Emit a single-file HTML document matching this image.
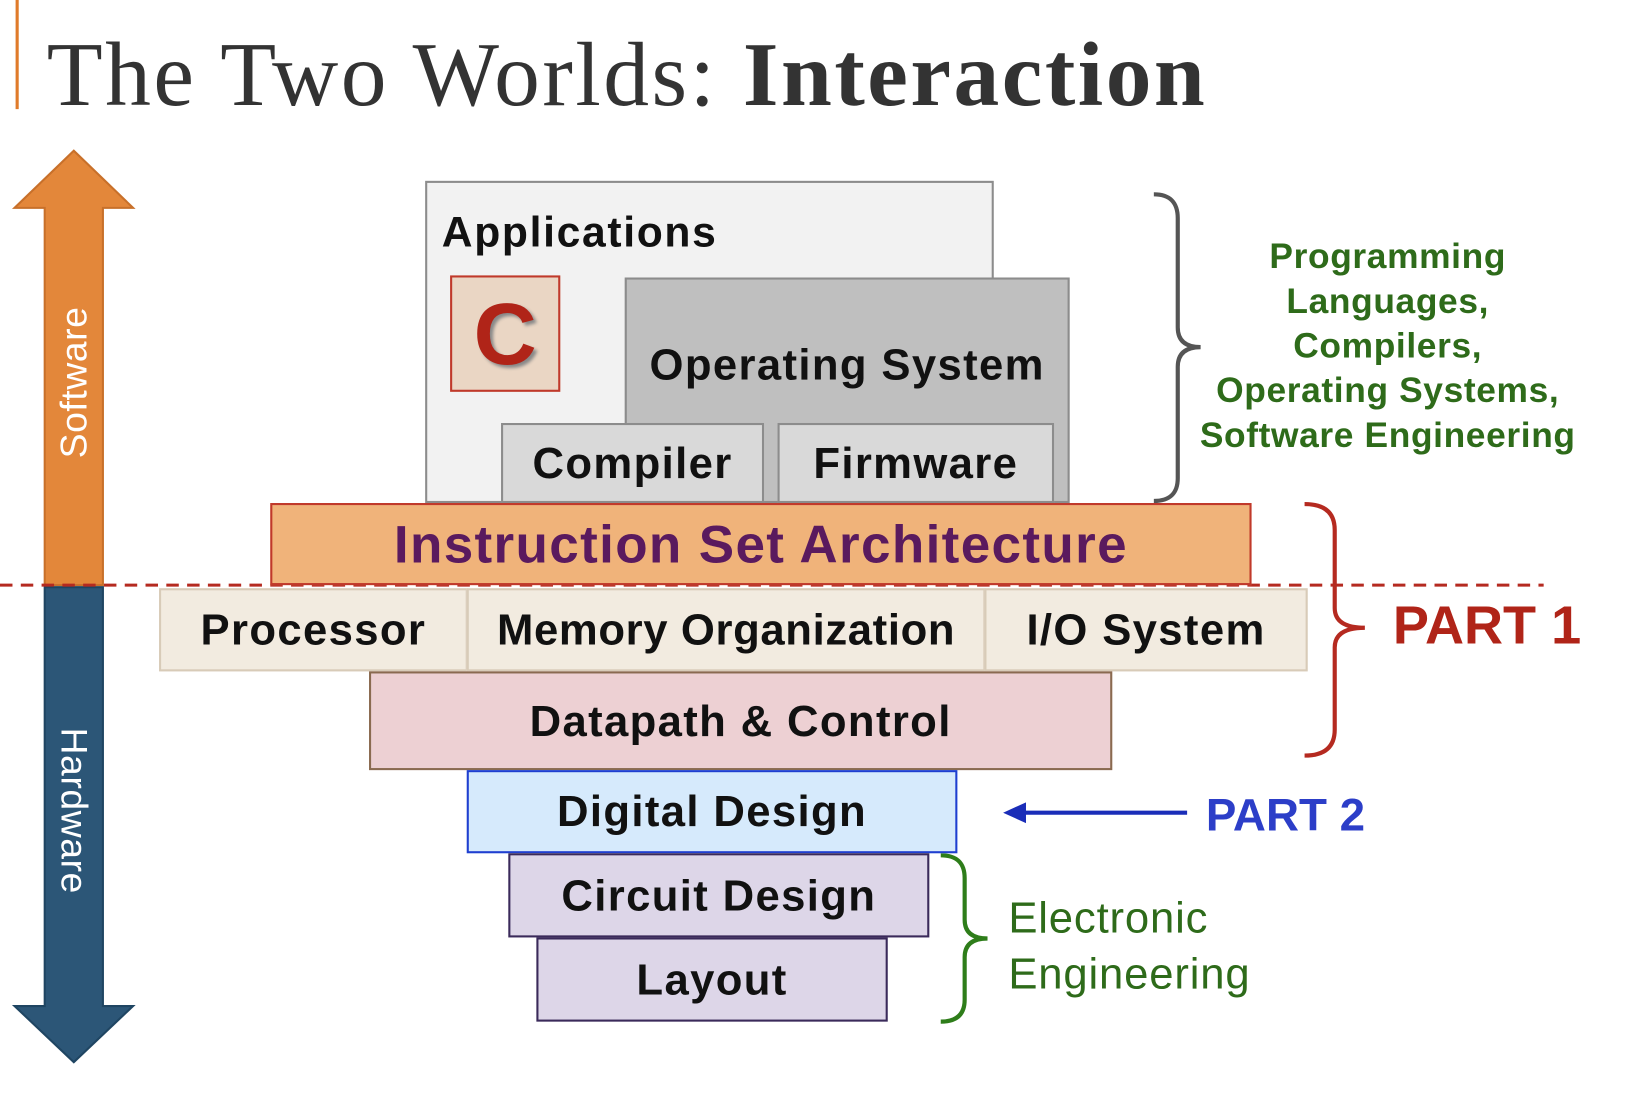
<!DOCTYPE html>
<html><head><meta charset="utf-8"><style>
html,body{margin:0;padding:0;background:#fff;overflow:hidden}
#w{position:relative;width:1568px;height:1070px;transform:scale(1.0395,1.0393);transform-origin:0 0;font-family:"Liberation Sans",sans-serif}
.b{position:absolute;box-sizing:border-box;font-weight:bold;color:#111;display:flex;align-items:center;justify-content:center;white-space:nowrap;letter-spacing:1.3px}
.t{position:absolute;white-space:nowrap}
</style></head><body><div id="w">
<div style="position:absolute;left:15px;top:0;width:3px;height:105px;background:#e07b2a"></div>
<div class="t" style="left:45px;top:18px;font-family:'Liberation Serif',serif;font-size:88px;color:#333;line-height:110px;letter-spacing:2.4px">The Two Worlds: <b>Interaction</b></div>

<svg style="position:absolute;left:0;top:0" width="1568" height="1070">
<polygon points="43,563 43,200 14,200 71,145 128,200 99,200 99,563" fill="#e3873a" stroke="#c8702a" stroke-width="2"/>
<polygon points="43,565 43,968 14,968 71,1022 128,968 99,968 99,565" fill="#2c5677" stroke="#1f4562" stroke-width="2"/>
<line x1="0" y1="563" x2="1485" y2="563" stroke="#b52a20" stroke-width="3" stroke-dasharray="12,8"/>
<path d="M1110,187 Q1133,187 1133,210 L1133,315 Q1133,334 1155,334 Q1133,334 1133,353 L1133,460 Q1133,482 1110,482" fill="none" stroke="#555" stroke-width="4"/>
<path d="M1255,485 Q1284,485 1284,510 L1284,585 Q1284,604 1313,604 Q1284,604 1284,623 L1284,702 Q1284,727 1255,727" fill="none" stroke="#b52a20" stroke-width="4"/>
<path d="M905,823 Q928,823 928,845 L928,885 Q928,903 950,903 Q928,903 928,921 L928,962 Q928,983 905,983" fill="none" stroke="#2e7d1a" stroke-width="4"/>
<line x1="985" y1="782" x2="1142" y2="782" stroke="#1a2db8" stroke-width="4"/>
<polygon points="965,782 987,772 987,792" fill="#1a2db8"/>
</svg>

<div class="t" style="left:71px;top:368px;transform:translate(-50%,-50%) rotate(-90deg);color:#fff;font-size:36px;letter-spacing:0.5px">Software</div>
<div class="t" style="left:71px;top:780px;transform:translate(-50%,-50%) rotate(90deg);color:#fff;font-size:36px;letter-spacing:0.5px">Hardware</div>

<div class="b" style="left:409px;top:174px;width:547px;height:310px;background:#f2f2f2;border:2px solid #8c8c8c"></div>
<div class="t" style="left:425px;top:200px;font-size:41px;font-weight:bold;color:#111;letter-spacing:1.6px">Applications</div>
<div class="b" style="left:433px;top:265px;width:106px;height:112px;background:#ead6c4;border:2px solid #c0392b;color:#b02418;font-size:84px;text-shadow:3px 3px 3px #888;letter-spacing:0">C</div>
<div class="b" style="left:601px;top:267px;width:428px;height:217px;background:#bfbfbf;border:2px solid #8c8c8c;font-size:42px;align-items:flex-start;padding-top:58px">Operating System</div>
<div class="b" style="left:482px;top:407px;width:253px;height:77px;background:#d9d9d9;border:2px solid #8c8c8c;font-size:42px">Compiler</div>
<div class="b" style="left:748px;top:407px;width:266px;height:77px;background:#d9d9d9;border:2px solid #8c8c8c;font-size:42px">Firmware</div>
<div class="b" style="left:260px;top:484px;width:944px;height:79px;background:#f0b37a;border:2px solid #c0392b;font-size:51px;color:#5a1a5e">Instruction Set Architecture</div>
<div class="b" style="left:153px;top:566px;width:297px;height:80px;background:#f2ebe0;border:2px solid #d8cbb8;font-size:42px">Processor</div>
<div class="b" style="left:449px;top:566px;width:499px;height:80px;background:#f2ebe0;border:2px solid #d8cbb8;font-size:42px;letter-spacing:0.6px">Memory Organization</div>
<div class="b" style="left:947px;top:566px;width:311px;height:80px;background:#f2ebe0;border:2px solid #d8cbb8;font-size:42px">I/O System</div>
<div class="b" style="left:355px;top:646px;width:715px;height:95px;background:#edd0d3;border:2px solid #8a6a50;font-size:42px">Datapath &amp; Control</div>
<div class="b" style="left:449px;top:741px;width:472px;height:80px;background:#d6eafc;border:2px solid #1f3fd0;font-size:42px">Digital Design</div>
<div class="b" style="left:489px;top:821px;width:405px;height:81px;background:#ddd6e8;border:2px solid #3a2a5a;font-size:42px">Circuit Design</div>
<div class="b" style="left:516px;top:902px;width:338px;height:81px;background:#ddd6e8;border:2px solid #3a2a5a;font-size:42px">Layout</div>

<div class="t" style="left:1335px;top:226px;transform:translateX(-50%);text-align:center;color:#2e6b1a;font-weight:bold;font-size:34px;line-height:43px;letter-spacing:0.6px">Programming<br>Languages,<br>Compilers,<br>Operating Systems,<br>Software Engineering</div>
<div class="t" style="left:1340px;top:572px;color:#b02418;font-weight:bold;font-size:52px">PART 1</div>
<div class="t" style="left:1160px;top:760px;color:#2c3ec8;font-weight:bold;font-size:44px">PART 2</div>
<div class="t" style="left:970px;top:856px;color:#2e6b1a;font-size:42px;line-height:54px;letter-spacing:0.8px">Electronic<br>Engineering</div>
</div></body></html>
